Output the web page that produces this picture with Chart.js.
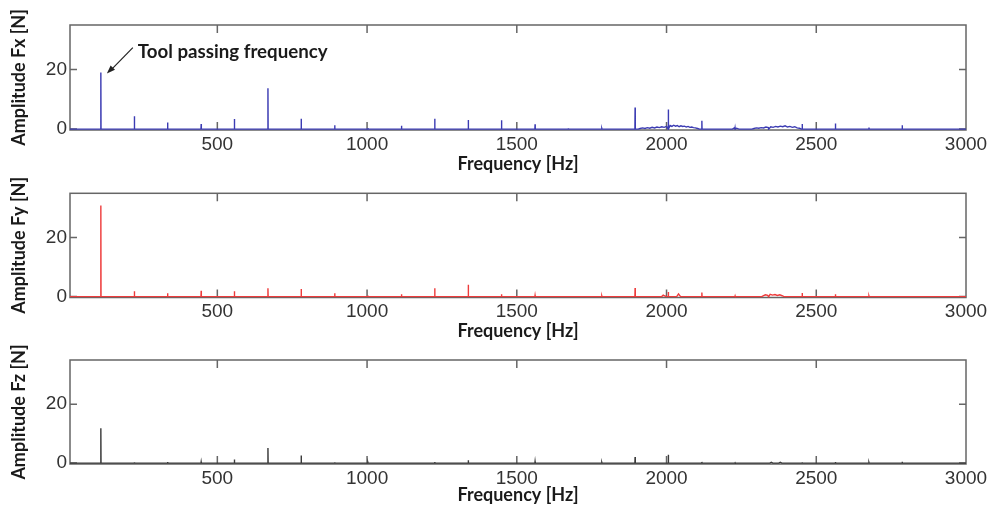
<!DOCTYPE html>
<html>
<head>
<meta charset="utf-8">
<script src="https://cdn.jsdelivr.net/npm/chart.js@4/dist/chart.umd.min.js"></script>
<style>
  html, body { margin: 0; padding: 0; background: #fff; width: 1000px; height: 505px; overflow: hidden; }
  .panel { position: absolute; left: 0; width: 1000px; }
</style>
</head>
<body>
<div class="panel" style="top:0px;height:176px"><canvas id="c1" width="1000" height="176"></canvas></div>
<div class="panel" style="top:176px;height:168px"><canvas id="c2" width="1000" height="168"></canvas></div>
<div class="panel" style="top:344px;height:166px"><canvas id="c3" width="1000" height="166"></canvas></div>
<script>
// ---- data ----
const xTickValues = [500, 1000, 1500, 2000, 2500, 3000];
const yTickValues = [0, 20];

// harmonics of the tool passing frequency [Hz]
const harmonicFreq = [111, 223, 334, 446, 557, 669, 780, 892, 1003, 1115, 1226, 1338, 1449, 1561, 1672, 1784, 1895, 2006, 2118, 2229, 2341, 2453, 2564, 2676, 2787, 2899];

// amplitudes [N]
const fxAmp = [19.0, 4.3, 2.2, 1.7, 3.4, 13.7, 3.5, 1.3, 0.3, 1.1, 3.5, 3.1, 3.0, 1.6, 0.3, 0.2, 7.3, 6.6, 2.8, 0.4, 0.5, 1.7, 1.9, 0.5, 1.3, 0.2];
const fyAmp = [30.9, 1.8, 1.1, 2.0, 1.8, 2.8, 2.6, 1.1, 0.3, 0.8, 2.8, 4.0, 0.8, 0.4, 0.2, 0.2, 2.9, 1.6, 1.4, 0.2, 0.4, 1.2, 0.8, 0.2, 0.2, 0.1];
const fzAmp = [11.8, 0.3, 0.4, 0.4, 1.2, 5.1, 2.6, 0.3, 0.2, 0.2, 0.4, 1.0, 0.2, 0.5, 0.2, 0.2, 2.1, 2.8, 0.4, 0.1, 0.2, 0.3, 0.4, 0.2, 0.5, 0.1];

// broadband content (frequency, amplitude); zeros mark where a band ends
const fxNoiseFreq = [1905, 1912, 1920, 1928, 1936, 1944, 1952, 1960, 1968, 1976, 1984, 1992, 2000, 2012, 2018, 2024, 2030, 2036, 2042, 2048, 2054, 2060, 2066, 2072, 2078, 2084, 2090, 2096, 2104, 2110,
                     2220, 2226, 2234, 2242,
                     2285, 2292, 2300, 2308, 2316, 2324, 2332, 2340, 2348, 2356, 2364, 2372, 2380, 2388, 2396, 2404, 2412, 2420, 2428, 2436, 2444, 2450];
const fxNoiseAmp  = [0, 0.2, 0.4, 0.2, 0.5, 0.3, 0.6, 0.4, 0.7, 0.5, 0.8, 0.6, 0.9, 1.2, 0.9, 1.3, 1.0, 1.2, 0.8, 1.1, 0.9, 1.0, 0.7, 0.9, 0.6, 0.7, 0.5, 0.4, 0.2, 0,
                     0, 0.4, 0.3, 0,
                     0, 0.2, 0.4, 0.3, 0.5, 0.4, 0.7, 0.5, 0.8, 0.6, 0.9, 0.7, 1.0, 0.8, 1.1, 0.7, 0.9, 0.6, 0.8, 0.4, 0.3, 0];
const fyNoiseFreq = [1984, 1989, 1995, 2000, 2034, 2040, 2047, 2318, 2324, 2330, 2338, 2346, 2354, 2362, 2370, 2378, 2386, 2392];
const fyNoiseAmp  = [0, 0.5, 0.2, 0, 0, 0.9, 0, 0, 0.3, 0.6, 0.4, 0.8, 0.5, 0.7, 0.4, 0.6, 0.3, 0];
const fzNoiseFreq = [2345, 2350, 2355, 2375, 2380, 2385];
const fzNoiseAmp  = [0, 0.3, 0, 0, 0.3, 0];

const X_MIN = 8, X_MAX = 3000, Y_MIN = -0.3, Y_MAX = 35;

function buildSeries(amps, nFreq, nAmp) {
  const pts = [{x: X_MIN, y: 0}];
  harmonicFreq.forEach((f, i) => {
    pts.push({x: f - 0.6, y: 0});
    pts.push({x: f, y: amps[i]});
    pts.push({x: f + 0.6, y: 0});
  });
  nFreq.forEach((f, i) => pts.push({x: f, y: nAmp[i]}));
  pts.push({x: X_MAX, y: 0});
  pts.sort((a, b) => a.x - b.x);
  return pts;
}

const tickFont = {family: '"Liberation Sans", Arial, sans-serif', size: 19};
const titleFont = {family: 'Lato, "Open Sans", sans-serif', size: 18, weight: 'bold'};

const framePlugin = {
  id: 'frame',
  beforeDatasetsDraw(chart) {
    const {ctx, chartArea: a, scales: {x, y}} = chart;
    ctx.save();
    ctx.strokeStyle = '#666';
    ctx.lineWidth = 1.5;
    ctx.strokeRect(a.left, a.top, a.right - a.left, a.bottom - a.top);
    ctx.beginPath();
    xTickValues.forEach(v => {
      const px = x.getPixelForValue(v);
      if (px >= a.right - 1) return;
      ctx.moveTo(px, a.bottom); ctx.lineTo(px, a.bottom - 8);
      ctx.moveTo(px, a.top); ctx.lineTo(px, a.top + 8);
    });
    yTickValues.forEach(v => {
      const py = y.getPixelForValue(v);
      ctx.moveTo(a.left, py); ctx.lineTo(a.left + 7, py);
      ctx.moveTo(a.right, py); ctx.lineTo(a.right - 7, py);
    });
    ctx.stroke();
    ctx.restore();
  }
};

const arrowPlugin = {
  id: 'arrowNote',
  afterDatasetsDraw(chart, args, opts) {
    if (!opts || !opts.text) return;
    const {ctx, scales: {x, y}} = chart;
    const px = x.getPixelForValue(harmonicFreq[0]);
    const py = y.getPixelForValue(fxAmp[0]);
    const hx = px + 6, hy = py + 1;
    const tx = px + 32, ty = py - 25;
    ctx.save();
    ctx.strokeStyle = '#222'; ctx.fillStyle = '#222'; ctx.lineWidth = 1.2;
    ctx.beginPath(); ctx.moveTo(tx, ty); ctx.lineTo(hx + 4, hy - 3.5); ctx.stroke();
    const ang = Math.atan2(hy - ty, hx - tx);
    ctx.beginPath();
    ctx.moveTo(hx, hy);
    ctx.lineTo(hx - 9 * Math.cos(ang - 0.35), hy - 9 * Math.sin(ang - 0.35));
    ctx.lineTo(hx - 9 * Math.cos(ang + 0.35), hy - 9 * Math.sin(ang + 0.35));
    ctx.closePath(); ctx.fill();
    ctx.font = 'bold 18.7px Lato, "Open Sans", sans-serif';
    ctx.fillStyle = '#1a1a1a';
    ctx.textBaseline = 'alphabetic';
    ctx.fillText(opts.text, px + 37, py - 15);
    ctx.restore();
  }
};

function makeChart(id, series, color, yTitle, padTop, xAxisH, titlePadBottom, note) {
  return new Chart(document.getElementById(id), {
    type: 'line',
    data: {datasets: [{data: series, borderColor: color, borderWidth: 1.4, pointRadius: 0, tension: 0, fill: false}]},
    options: {
      responsive: false, animation: false,
      layout: {padding: {top: padTop, right: 34, left: 0, bottom: 0}},
      plugins: {legend: {display: false}, tooltip: {enabled: false}, arrowNote: {text: note}},
      scales: {
        x: {
          type: 'linear', min: X_MIN, max: X_MAX,
          afterBuildTicks: s => { s.ticks = xTickValues.map(v => ({value: v})); },
          afterFit: s => { s.height = xAxisH; },
          grid: {display: false, drawTicks: false}, border: {display: false},
          ticks: {font: tickFont, color: '#333', padding: 3, maxRotation: 0, autoSkip: false, callback: v => String(v)},
          title: {display: true, text: 'Frequency [Hz]', font: titleFont, color: '#1a1a1a', padding: {top: 0, bottom: titlePadBottom}}
        },
        y: {
          type: 'linear', min: Y_MIN, max: Y_MAX,
          afterBuildTicks: s => { s.ticks = yTickValues.map(v => ({value: v})); },
          afterFit: s => { s.width = 70; },
          grid: {display: false, drawTicks: false}, border: {display: false},
          ticks: {font: tickFont, color: '#333', padding: 3, callback: v => String(v)},
          title: {display: true, text: yTitle, font: titleFont, color: '#1a1a1a', padding: {top: 8, bottom: 0}}
        }
      }
    },
    plugins: [framePlugin, arrowPlugin]
  });
}

makeChart('c1', buildSeries(fxAmp, fxNoiseFreq, fxNoiseAmp), '#3b3bb3', 'Amplitude Fx [N]', 25, 46, 1.5, 'Tool passing frequency');
makeChart('c2', buildSeries(fyAmp, fyNoiseFreq, fyNoiseAmp), '#ee3b3b', 'Amplitude Fy [N]', 17.3, 46.5, 2.0, '');
makeChart('c3', buildSeries(fzAmp, fzNoiseFreq, fzNoiseAmp), '#3a3a3a', 'Amplitude Fz [N]', 16, 46, 4.5, '');
</script>
</body>
</html>
